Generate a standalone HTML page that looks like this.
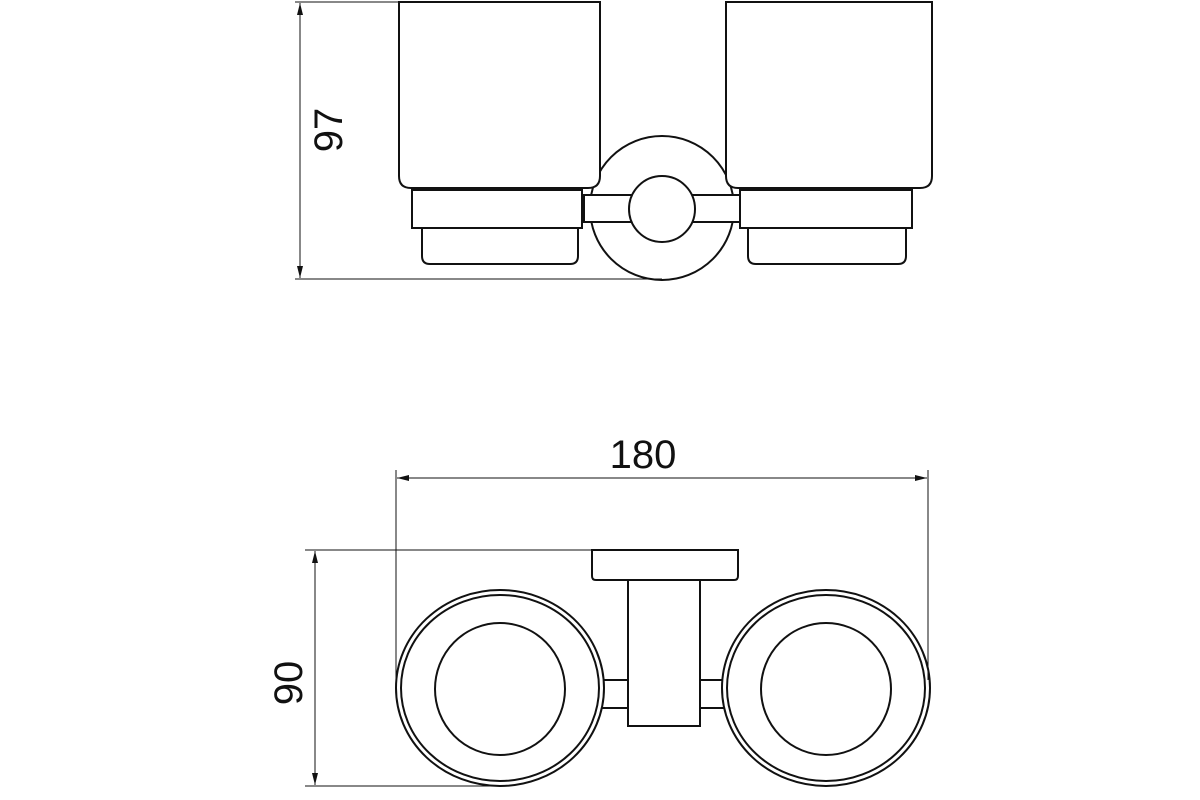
<!DOCTYPE html>
<html><head><style>body{margin:0;background:#fff}svg{display:block}</style></head><body>
<svg width="1200" height="800" viewBox="0 0 1200 800" xmlns="http://www.w3.org/2000/svg">
<defs><marker id="a" markerWidth="12" markerHeight="6" refX="12" refY="3" orient="auto-start-reverse" markerUnits="userSpaceOnUse"><path d="M0,0 L12,3 L0,6 Z" fill="#111"/></marker></defs>
<g fill="none" stroke="#111" stroke-width="2">
<!-- top view -->
<ellipse cx="662" cy="208" rx="72" ry="72" fill="#fff"/>
<path d="M399,2 H600 V176 Q600,188 588,188 H411 Q399,188 399,176 Z" fill="#fff"/>
<rect x="412" y="190" width="170" height="38" fill="#fff"/>
<path d="M422,228 V256 Q422,264 430,264 H570 Q578,264 578,256 V228"/>
<path d="M726,2 H932 V176 Q932,188 920,188 H738 Q726,188 726,176 Z" fill="#fff"/>
<rect x="740" y="190" width="172" height="38" fill="#fff"/>
<path d="M748,228 V256 Q748,264 756,264 H898 Q906,264 906,256 V228"/>
<rect x="584" y="195" width="156" height="27" fill="#fff"/>
<circle cx="662" cy="209" r="33" fill="#fff"/>
<!-- bottom view -->
<rect x="600" y="680" width="30" height="28"/>
<rect x="698" y="680" width="32" height="28"/>
<rect x="628" y="580" width="72" height="146" fill="#fff"/>
<path d="M592,550 H738 V576 Q738,580 734,580 H596 Q592,580 592,576 Z" fill="#fff"/>
<ellipse cx="500" cy="688" rx="104" ry="98" fill="#fff"/>
<ellipse cx="500" cy="688" rx="99" ry="93"/>
<ellipse cx="500" cy="689" rx="65" ry="66"/>
<ellipse cx="826" cy="688" rx="104" ry="98" fill="#fff"/>
<ellipse cx="826" cy="688" rx="99" ry="93"/>
<ellipse cx="826" cy="689" rx="65" ry="66"/>
</g>
<g stroke="#111" stroke-width="1" fill="none">
<line x1="295" y1="2" x2="400" y2="2"/>
<line x1="295" y1="279" x2="662" y2="279"/>
<line x1="300" y1="3" x2="300" y2="278" marker-start="url(#a)" marker-end="url(#a)"/>
<line x1="396" y1="470" x2="396" y2="680"/>
<line x1="928" y1="470" x2="928" y2="680"/>
<line x1="397" y1="478" x2="927" y2="478" marker-start="url(#a)" marker-end="url(#a)"/>
<line x1="305" y1="550" x2="600" y2="550"/>
<line x1="305" y1="786" x2="500" y2="786"/>
<line x1="315" y1="551" x2="315" y2="785" marker-start="url(#a)" marker-end="url(#a)"/>
</g>
<g font-family="Liberation Sans, sans-serif" font-size="40" fill="#111">
<text x="0" y="0" transform="translate(342,130) rotate(-90)" text-anchor="middle">97</text>
<text x="643" y="468" text-anchor="middle">180</text>
<text x="0" y="0" transform="translate(302,683) rotate(-90)" text-anchor="middle">90</text>
</g>
</svg>
</body></html>
